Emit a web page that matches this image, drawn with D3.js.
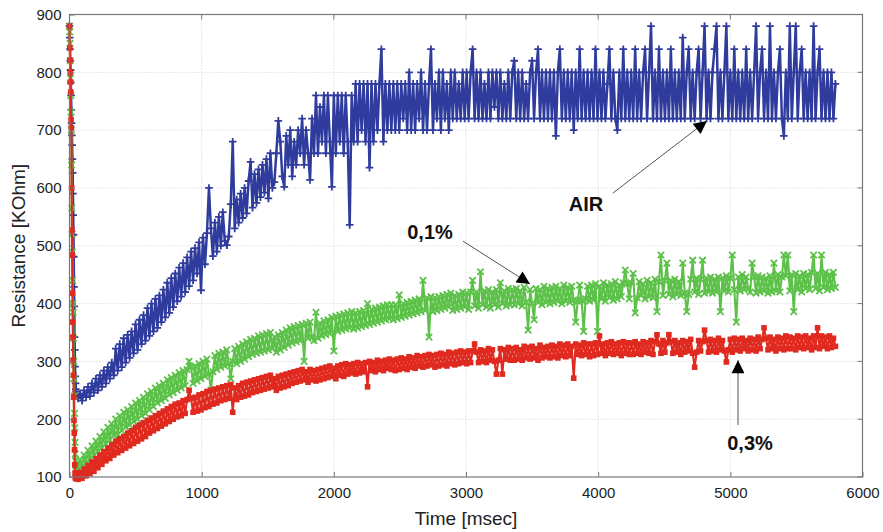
<!DOCTYPE html>
<html>
<head>
<meta charset="utf-8">
<script src="https://cdn.jsdelivr.net/npm/d3@7"></script>
<style>
  body { margin: 0; background: #fff; }
  svg { display: block; font-family: "Liberation Sans", Arial, sans-serif; }
</style>
</head>
<body>
<svg id="chart" width="883" height="532"></svg>
<script>
// sampling: 2 ms during the switch-on drop, then every 15 ms
const headStep = 2, headCount = 25;
const bodyStart = 50, bodyEnd = 5800, bodyStep = 15;

const xTicks = [0, 1000, 2000, 3000, 4000, 5000, 6000];
const yTicks = [100, 200, 300, 400, 500, 600, 700, 800, 900];

// AIR (blue, +)
const airHead = [880, 860, 840, 820, 804, 782, 760, 735, 712, 691, 674, 650, 626, 590, 553,
  519, 481, 429, 395, 342, 320, 291, 274, 262, 252];
const airBody = [
  248, 236, 244, 232, 250, 238, 256, 240, 262, 246, 270, 250, 276, 256, 284, 262, 290, 270, 298, 276,
  322, 284, 330, 290, 340, 298, 346, 306, 352, 314, 364, 320, 372, 330, 380, 336, 392, 344, 400, 352,
  408, 358, 414, 368, 424, 376, 436, 384, 444, 394, 452, 404, 462, 412, 470, 420, 480, 430, 490, 440,
  496, 452, 506, 423, 514, 468, 522, 600, 530, 482, 540, 490, 550, 500, 558, 508, 501, 516, 572, 680,
  530, 580, 540, 590, 548, 600, 556, 612, 645, 566, 624, 574, 632, 584, 640, 592, 650, 582, 660, 600,
  610, 660, 716, 680, 620, 602, 690, 640, 700, 620, 680, 640, 700, 660, 720, 640, 700, 660, 614, 720,
  660, 760, 660, 740, 680, 760, 660, 760, 680, 602, 760, 660, 760, 680, 760, 660, 760, 680, 536, 760,
  680, 780, 680, 780, 700, 780, 680, 780, 635, 780, 680, 780, 700, 780, 840, 680, 780, 700, 780, 700,
  780, 700, 780, 700, 780, 720, 780, 700, 800, 700, 780, 700, 780, 720, 800, 700, 780, 700, 780, 840,
  700, 780, 720, 800, 700, 800, 720, 780, 700, 800, 720, 800, 720, 780, 720, 800, 720, 800, 720, 800,
  840, 720, 800, 720, 800, 720, 780, 720, 800, 720, 800, 740, 800, 720, 800, 720, 780, 720, 800, 720,
  800, 820, 720, 800, 720, 800, 720, 780, 720, 800, 820, 720, 800, 840, 720, 800, 720, 800, 720, 800,
  720, 800, 690, 800, 840, 720, 800, 720, 800, 720, 800, 700, 800, 720, 840, 720, 800, 720, 800, 720,
  800, 720, 840, 720, 800, 720, 800, 720, 780, 840, 720, 800, 720, 700, 800, 720, 840, 720, 800, 720,
  800, 720, 840, 720, 800, 720, 800, 840, 720, 800, 880, 720, 800, 720, 840, 720, 800, 720, 800, 720,
  840, 720, 800, 720, 800, 720, 860, 720, 800, 840, 720, 800, 720, 800, 840, 720, 800, 880, 720, 800,
  720, 800, 840, 880, 720, 800, 720, 800, 880, 720, 800, 720, 840, 720, 800, 720, 800, 720, 840, 720,
  800, 720, 800, 880, 720, 800, 840, 720, 800, 720, 880, 720, 800, 720, 800, 840, 720, 690, 800, 720,
  880, 720, 800, 880, 720, 800, 840, 720, 800, 720, 800, 720, 880, 720, 800, 840, 720, 800, 720, 800,
  720, 800, 720, 780];

// 0,1% (green, x)
const g01Head = [880, 870, 850, 820, 790, 760, 731, 700, 640, 565, 520, 489, 440, 400, 385,
  340, 300, 270, 240, 210, 185, 160, 140, 128, 120];
const g01Body = [
  120, 112, 130, 118, 138, 124, 146, 130, 154, 138, 162, 144, 170, 150, 178, 158, 186, 164, 192, 172,
  200, 174, 206, 180, 212, 186, 216, 190, 222, 196, 228, 200, 232, 206, 238, 210, 244, 216, 248, 222,
  254, 228, 258, 232, 262, 236, 268, 242, 272, 246, 276, 250, 280, 254, 284, 258, 286, 300, 290, 262,
  292, 266, 296, 270, 300, 274, 304, 278, 250, 282, 310, 286, 314, 290, 316, 292, 320, 296, 270, 300,
  322, 296, 326, 300, 330, 304, 334, 308, 338, 312, 340, 314, 344, 316, 346, 318, 348, 320, 350, 322,
  342, 316, 346, 320, 350, 324, 354, 328, 358, 332, 360, 334, 362, 336, 364, 300, 366, 340, 368, 342,
  336, 385, 340, 366, 344, 370, 346, 372, 348, 376, 318, 378, 352, 380, 354, 382, 356, 384, 358, 386,
  356, 384, 358, 386, 360, 388, 362, 400, 364, 390, 366, 392, 368, 394, 370, 396, 372, 398, 374, 398,
  372, 398, 374, 415, 376, 400, 378, 402, 380, 404, 382, 406, 384, 408, 386, 440, 388, 410, 342, 412,
  386, 410, 388, 412, 390, 414, 392, 416, 394, 418, 388, 414, 390, 416, 392, 420, 394, 418, 390, 420,
  440, 396, 420, 392, 455, 398, 422, 394, 424, 392, 420, 398, 424, 394, 436, 400, 422, 396, 426, 398,
  424, 398, 426, 400, 422, 396, 428, 402, 354, 424, 400, 372, 426, 402, 424, 398, 430, 402, 426, 400,
  428, 402, 430, 404, 426, 400, 432, 404, 428, 402, 430, 406, 368, 404, 432, 406, 352, 408, 430, 404,
  432, 406, 434, 352, 430, 408, 436, 404, 432, 410, 434, 406, 438, 408, 432, 412, 436, 458, 434, 408,
  436, 452, 384, 410, 438, 414, 434, 408, 440, 412, 436, 410, 442, 386, 438, 484, 414, 440, 470, 416,
  440, 412, 442, 416, 438, 414, 470, 418, 386, 416, 442, 475, 420, 444, 416, 442, 475, 418, 444, 420,
  446, 418, 442, 420, 446, 386, 444, 422, 448, 420, 444, 484, 424, 368, 446, 422, 450, 424, 446, 426,
  420, 470, 446, 418, 448, 420, 446, 422, 444, 418, 448, 420, 470, 422, 450, 420, 446, 484, 448, 484,
  422, 450, 386, 452, 424, 448, 420, 452, 426, 450, 424, 454, 484, 426, 452, 422, 484, 428, 454, 424,
  450, 426, 454, 428];

// 0,3% (red, squares)
const g03Head = [880, 842, 821, 800, 783, 766, 718, 704, 600, 527, 484, 418, 368, 342, 302,
  276, 238, 198, 176, 147, 121, 107, 100, 97, 102];
const g03Body = [
  104, 96, 108, 98, 114, 102, 120, 106, 126, 110, 132, 116, 138, 122, 144, 128, 150, 132, 156, 138,
  162, 142, 166, 146, 170, 150, 176, 154, 180, 158, 186, 162, 190, 166, 194, 170, 198, 176, 202, 180,
  206, 184, 210, 188, 214, 192, 218, 196, 222, 200, 226, 204, 228, 206, 232, 210, 234, 250, 236, 212,
  238, 214, 242, 216, 244, 220, 248, 222, 250, 226, 252, 228, 254, 232, 256, 234, 258, 236, 260, 212,
  254, 234, 258, 238, 262, 240, 264, 242, 266, 246, 268, 248, 270, 250, 272, 252, 274, 254, 276, 256,
  270, 250, 274, 254, 276, 256, 278, 258, 280, 262, 282, 264, 284, 266, 286, 268, 282, 264, 286, 268,
  284, 266, 286, 268, 288, 270, 290, 272, 292, 274, 288, 270, 292, 276, 294, 274, 296, 278, 294, 280,
  296, 278, 298, 280, 296, 282, 298, 256, 300, 284, 298, 282, 302, 286, 300, 284, 302, 288, 304, 286,
  302, 284, 304, 286, 306, 288, 304, 286, 308, 290, 306, 288, 310, 292, 308, 290, 310, 292, 312, 294,
  310, 290, 312, 292, 314, 294, 312, 292, 316, 296, 314, 294, 316, 296, 318, 298, 316, 296, 318, 298,
  318, 330, 316, 298, 320, 300, 318, 298, 322, 302, 320, 300, 278, 302, 322, 278, 320, 304, 324, 302,
  322, 302, 324, 304, 320, 302, 326, 306, 324, 304, 326, 306, 322, 302, 328, 306, 324, 308, 326, 306,
  328, 308, 326, 306, 330, 310, 328, 308, 330, 310, 326, 271, 330, 312, 328, 310, 332, 312, 330, 308,
  330, 310, 332, 312, 344, 314, 330, 310, 332, 314, 334, 312, 330, 314, 332, 310, 334, 314, 332, 312,
  332, 312, 334, 314, 330, 312, 334, 316, 332, 314, 336, 312, 334, 346, 330, 314, 336, 316, 332, 346,
  334, 314, 336, 316, 332, 312, 336, 316, 334, 318, 338, 314, 290, 316, 336, 318, 334, 354, 336, 316,
  338, 318, 336, 316, 340, 320, 336, 318, 299, 320, 338, 316, 340, 320, 338, 318, 340, 322, 336, 318,
  340, 320, 338, 318, 342, 322, 338, 358, 340, 320, 342, 322, 338, 318, 342, 322, 340, 320, 344, 322,
  342, 322, 340, 320, 344, 324, 342, 322, 344, 324, 340, 320, 344, 324, 358, 322, 344, 326, 342, 322,
  344, 324, 340, 326];

const labels = [
  { text: "AIR", x: 3908, y: 569, ax: 4111, ay: 591, tx: 4823, ty: 716 },
  { text: "0,1%", x: 2728, y: 520, ax: 2977, ay: 508, tx: 3484, ty: 434 },
  { text: "0,3%", x: 5149, y: 155, ax: 5058, ay: 190, tx: 5058, ty: 302 }
];

const svg = d3.select("#chart");
const width = 883, height = 532;
const margin = { top: 14.5, right: 20.5, bottom: 55, left: 69.5 };

const x = d3.scaleLinear().domain([0, 6000]).range([margin.left, width - margin.right]);
const y = d3.scaleLinear().domain([100, 900]).range([height - margin.bottom, margin.top]);

const headT = d3.range(headCount).map(i => i * headStep);
const bodyT = d3.range(bodyStart, bodyEnd + 1, bodyStep);

function toPoints(head, body) {
  const pts = head.map((v, i) => [headT[i], v]);
  body.forEach((v, i) => { if (i < bodyT.length) pts.push([bodyT[i], v]); });
  return pts;
}

const series = [
  { name: "AIR", color: "#2f3c9e", marker: "plus", width: 2.5, pts: toPoints(airHead, airBody) },
  { name: "0,1%", color: "#5cc148", marker: "cross", width: 2.1, pts: toPoints(g01Head, g01Body) },
  { name: "0,3%", color: "#e02a1f", marker: "square", width: 2.1, pts: toPoints(g03Head, g03Body) }
];

// grid
const grid = svg.append("g");
grid.selectAll(".gx").data(xTicks.slice(1, -1)).join("line")
  .attr("x1", d => x(d)).attr("x2", d => x(d))
  .attr("y1", margin.top).attr("y2", height - margin.bottom)
  .attr("stroke", "#cfcfcf").attr("stroke-dasharray", "1,2");
grid.selectAll(".gy").data(yTicks.slice(1, -1)).join("line")
  .attr("y1", d => y(d)).attr("y2", d => y(d))
  .attr("x1", margin.left).attr("x2", width - margin.right)
  .attr("stroke", "#cfcfcf").attr("stroke-dasharray", "1,2");

// data
const line = d3.line().x(d => x(d[0])).y(d => y(d[1]));
const plot = svg.append("g");

series.forEach(s => {
  plot.append("path").datum(s.pts)
    .attr("d", line).attr("fill", "none")
    .attr("stroke", s.color).attr("stroke-width", s.width);

  const m = plot.append("g");
  if (s.marker === "square") {
    m.selectAll("rect").data(s.pts).join("rect")
      .attr("x", d => x(d[0]) - 2.8).attr("y", d => y(d[1]) - 2.8)
      .attr("width", 5.6).attr("height", 5.6)
      .attr("fill", s.color);
  } else {
    const p = s.marker === "plus" ? "M-3.8,0H3.8M0,-3.8V3.8" : "M-3.2,-3.2L3.2,3.2M-3.2,3.2L3.2,-3.2";
    m.selectAll("path").data(s.pts).join("path")
      .attr("transform", d => `translate(${x(d[0])},${y(d[1])})`)
      .attr("d", p).attr("stroke", s.color).attr("stroke-width", 1.8).attr("fill", "none");
  }
});

// frame and axes
svg.append("rect")
  .attr("x", margin.left).attr("y", margin.top)
  .attr("width", width - margin.left - margin.right)
  .attr("height", height - margin.top - margin.bottom)
  .attr("fill", "none").attr("stroke", "#777").attr("stroke-width", 1.2);

svg.append("g")
  .attr("transform", `translate(0,${height - margin.bottom})`)
  .call(d3.axisBottom(x).tickValues(xTicks).tickFormat(d3.format("d")).tickSizeInner(-5).tickSizeOuter(0).tickPadding(10))
  .call(g => g.select(".domain").remove())
  .call(g => g.selectAll("line").attr("stroke", "#777"))
  .call(g => g.selectAll("text").attr("font-size", 15).attr("fill", "#222").attr("font-family", "Liberation Sans, Arial, sans-serif"));

svg.append("g")
  .attr("transform", `translate(${margin.left},0)`)
  .call(d3.axisLeft(y).tickValues(yTicks).tickFormat(d3.format("d")).tickSizeInner(-5).tickSizeOuter(0).tickPadding(8))
  .call(g => g.select(".domain").remove())
  .call(g => g.selectAll("line").attr("stroke", "#777"))
  .call(g => g.selectAll("text").attr("font-size", 15).attr("fill", "#222").attr("font-family", "Liberation Sans, Arial, sans-serif"));

// ticks on the right and top sides of the box
svg.append("g").selectAll("line").data(yTicks).join("line")
  .attr("x1", width - margin.right).attr("x2", width - margin.right - 5)
  .attr("y1", d => y(d)).attr("y2", d => y(d)).attr("stroke", "#777");
svg.append("g").selectAll("line").data(xTicks).join("line")
  .attr("y1", margin.top).attr("y2", margin.top + 5)
  .attr("x1", d => x(d)).attr("x2", d => x(d)).attr("stroke", "#777");

svg.append("text")
  .attr("x", (margin.left + width - margin.right) / 2).attr("y", 525)
  .attr("text-anchor", "middle").attr("font-size", 19).attr("fill", "#222")
  .text("Time [msec]");

svg.append("text")
  .attr("transform", `translate(25,${(margin.top + height - margin.bottom) / 2}) rotate(-90)`)
  .attr("text-anchor", "middle").attr("font-size", 19).attr("fill", "#222")
  .text("Resistance [KOhm]");

// annotations
svg.append("defs").append("marker")
  .attr("id", "head").attr("viewBox", "0 0 10 10")
  .attr("refX", 10).attr("refY", 5)
  .attr("markerWidth", 18).attr("markerHeight", 13)
  .attr("markerUnits", "userSpaceOnUse").attr("orient", "auto")
  .append("path").attr("d", "M0,0L10,5L0,10Z").attr("fill", "#000");

labels.forEach(l => {
  svg.append("line")
    .attr("x1", x(l.ax)).attr("y1", y(l.ay))
    .attr("x2", x(l.tx)).attr("y2", y(l.ty))
    .attr("stroke", "#555").attr("stroke-width", 1)
    .attr("marker-end", "url(#head)");
  svg.append("text")
    .attr("x", x(l.x)).attr("y", y(l.y))
    .attr("text-anchor", "middle").attr("dominant-baseline", "middle")
    .attr("font-size", 20).attr("font-weight", "bold").attr("fill", "#111")
    .text(l.text);
});
</script>
</body>
</html>
